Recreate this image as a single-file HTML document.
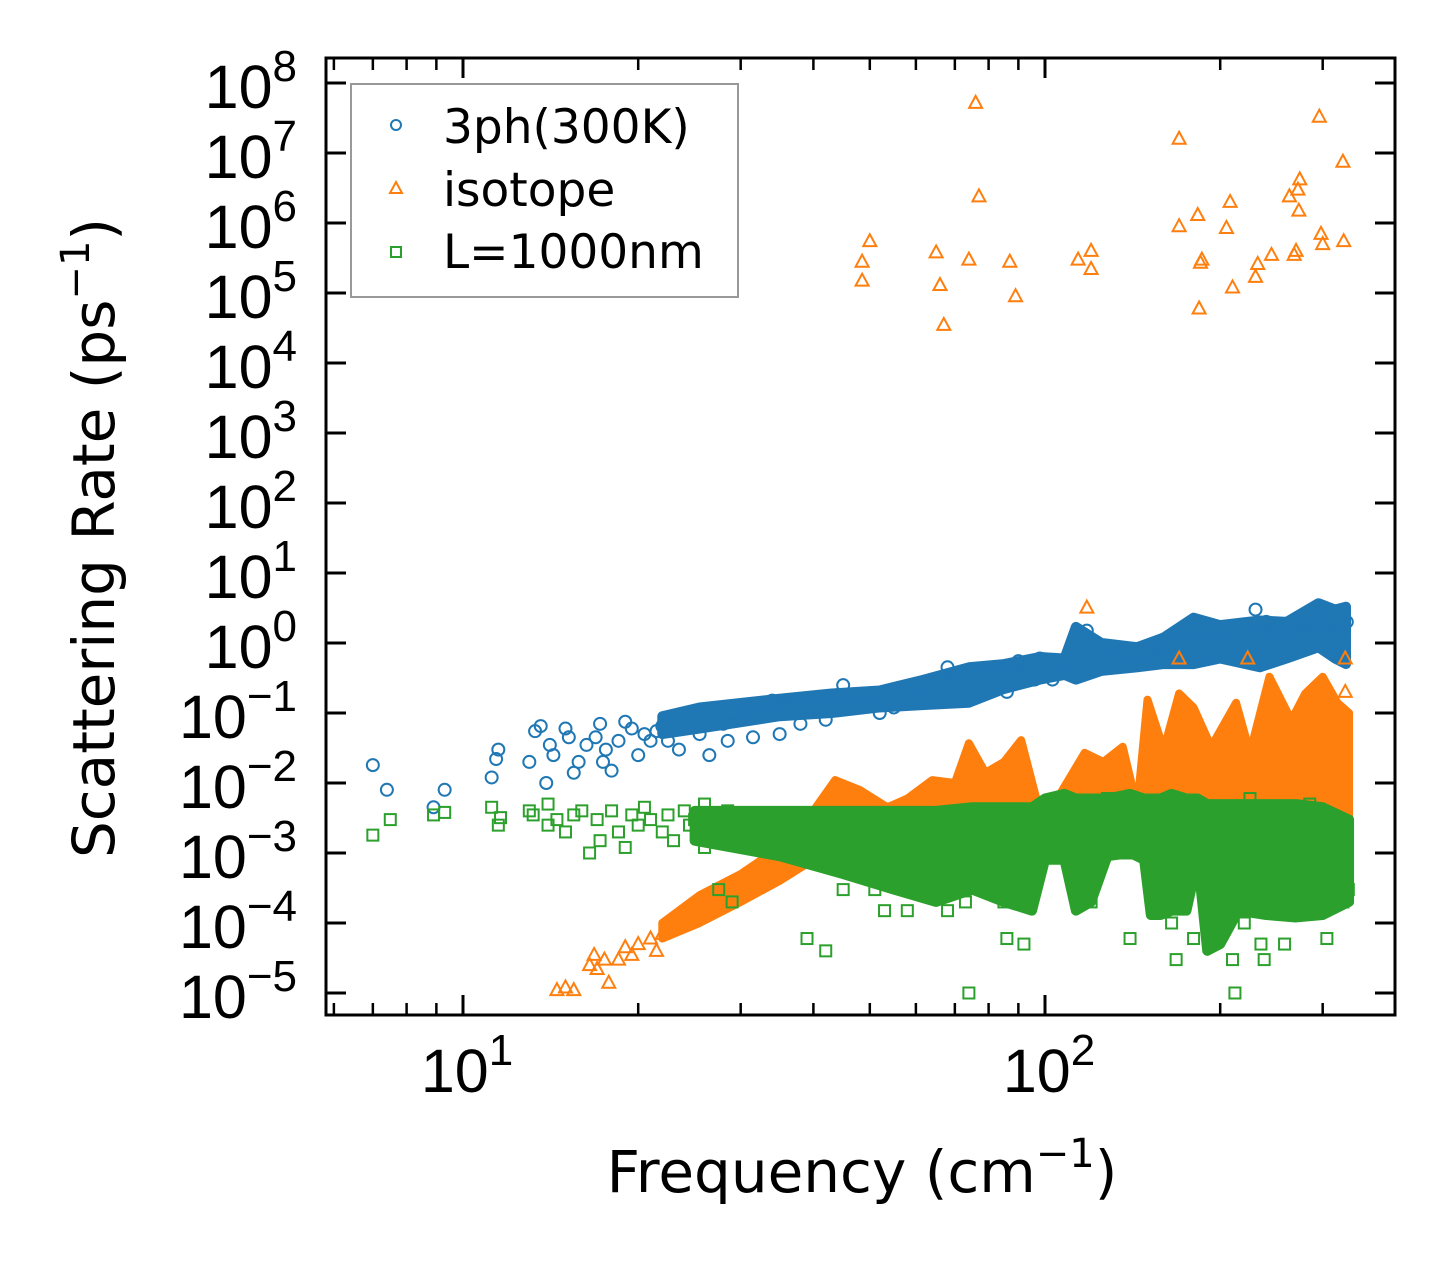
<!DOCTYPE html>
<html><head><meta charset="utf-8"><style>
html,body{margin:0;padding:0;background:#fff;}
svg{display:block;font-family:"Liberation Sans","DejaVu Sans",sans-serif;}
</style></head><body>
<svg id="chart" width="1455" height="1265" viewBox="0 0 1455 1265" xmlns="http://www.w3.org/2000/svg">
<rect width="1455" height="1265" fill="#fff"/>
<g id="marks"></g>
<g id="axes"></g>
<g id="legend" font-family="DejaVu Sans, sans-serif">
<rect x="351" y="84" width="387" height="213" fill="#fff" fill-opacity="0.8" stroke="#999" stroke-width="2"/>
<circle cx="396" cy="125" r="5" fill="none" stroke="#1f77b4" stroke-width="2"/>
<path d="M396,182 L402,193 L390,193 Z" fill="none" stroke="#ff7f0e" stroke-width="2"/>
<rect x="391" y="247" width="10" height="10" fill="none" stroke="#2ca02c" stroke-width="2"/>
<text x="443" y="143" font-size="47">3ph(300K)</text>
<text x="443" y="206" font-size="47">isotope</text>
<text x="443" y="268" font-size="47">L=1000nm</text>
</g>
</svg>
<script>
const blueF=[7.0,7.4,8.9,9.3,11.2,11.5,11.4,13,13.3,13.6,13.9,14.1,14.3,15,15.2,15.5,15.8,16.3,16.9,17.2,17.4,17.6,18,18.5,19,19.5,20,20.5,21,21.5,22,22.5,23,23.5,24,25,25.5,26,26.5,27,28,28.5,29,30,31,31.5,32,33,34,35,35.5,36,37,38,39,40,41,42,43,44,45,46,48,50,52,53,55,57,59,60,62,64,66,68,70,72,74,76,78,80,83,86,88,90,93,96,98,100,103,106,110,113,116,118,120,125,130,135,140,145,150,155,160,165,170,175,180,185,190,195,200,205,210,215,220,225,230,235,240,245,250,255,260,265,270,275,280,285,290,295,300,305,310,315,320,325,330];
const blueR=[0.018,0.008,0.0045,0.008,0.012,0.03,0.022,0.02,0.055,0.065,0.01,0.035,0.025,0.06,0.045,0.014,0.02,0.035,0.045,0.07,0.02,0.03,0.015,0.04,0.075,0.06,0.025,0.05,0.04,0.055,0.065,0.04,0.075,0.03,0.06,0.08,0.05,0.1,0.025,0.09,0.07,0.04,0.1,0.08,0.12,0.045,0.1,0.13,0.15,0.05,0.14,0.12,0.15,0.07,0.16,0.12,0.17,0.08,0.15,0.18,0.25,0.13,0.18,0.15,0.1,0.2,0.12,0.22,0.25,0.2,0.28,0.18,0.3,0.45,0.3,0.15,0.35,0.25,0.4,0.3,0.45,0.2,0.35,0.55,0.4,0.3,0.6,0.45,0.3,0.4,0.5,0.35,0.6,1.5,0.8,0.6,0.7,0.75,0.6,0.8,0.7,0.9,0.8,1.0,1.2,0.9,1.3,1.1,0.6,1.4,1.0,1.5,1.2,0.8,1.3,1.5,3.0,1.0,2.0,1.4,1.6,1.2,1.8,1.5,2.2,1.6,1.8,1.4,2.0,2.5,3.2,1.5,2.0,0.7,1.5,2.5,2.0];
const blueEnvF=[22,25.5,35,43,52,62,74,85,98,108,113,125,144,160,180,200,234,260,295,315,329];
const blueEnvLo=[0.05,0.06,0.09,0.1,0.12,0.13,0.14,0.22,0.3,0.35,0.3,0.4,0.45,0.5,0.5,0.6,0.45,0.6,0.87,0.6,0.5];
const blueEnvHi=[0.09,0.12,0.16,0.19,0.21,0.3,0.45,0.5,0.63,0.6,1.7,1.0,0.87,1.2,2.3,1.8,2.1,2.0,3.7,3.0,3.3];
const isoF=[48.5,48.5,50,65,66,67,74,76,77,87,89,114,120,120,170,170,183,185,186,184,205,208,210,230,232,245,263,268,270,272,273,274,296,298,300,325,326,
118,170,223,328,328,
14.5,15,15.5,16.5,16.8,17,17.5,17.8,18.5,19,19.5,20,21,21.5,22,23,24,25,26,27,28,29,30,31,32,33,34,35,36,38,40];
const isoR=[1.5e5,2.8e5,5.5e5,3.8e5,1.3e5,3.5e4,3e5,5.2e7,2.4e6,2.8e5,9e4,3e5,4e5,2.2e5,1.6e7,9e5,1.3e6,2.7e5,3e5,6e4,8.5e5,2e6,1.2e5,1.7e5,2.6e5,3.5e5,2.4e6,3.5e5,4e5,3e6,1.5e6,4.2e6,3.3e7,7e5,5e5,7.5e6,5.5e5,
3.2,0.6,0.6,0.6,0.2,
1.1e-5,1.2e-5,1.1e-5,2.5e-5,3.5e-5,2.2e-5,3e-5,1.4e-5,3e-5,4.5e-5,3.5e-5,5e-5,6e-5,4e-5,7e-5,1e-4,1.1e-4,1.2e-4,1.5e-4,1.8e-4,2e-4,2.5e-4,3e-4,4e-4,5e-4,7e-4,8e-4,1e-3,1.2e-3,1.5e-3,2e-3];
const isoEnvF=[22,25.5,30,35,40,43.6,48,53.6,58,64,70,74,79,85,91,98,105,117,126,136,144,150,160,170,180,193,213,225,243,265,280,300,318,333];
const isoEnvLo=[6e-5,1e-4,2e-4,4e-4,8e-4,1.5e-3,2e-3,2e-3,2e-3,2e-3,2e-3,2e-3,2e-3,2e-3,2e-3,2e-3,3e-3,3e-3,3e-3,3e-3,3e-3,3e-3,3e-3,3e-3,3e-3,3e-3,3e-3,3e-3,3e-3,3e-3,3e-3,3e-3,3e-3,3e-3];
const isoEnvHi=[1e-4,2.5e-4,5e-4,1.2e-3,4e-3,0.011,0.008,4.5e-3,6e-3,0.011,0.01,0.037,0.014,0.02,0.041,3.8e-3,6e-3,0.027,0.02,0.033,4.5e-3,0.155,0.03,0.19,0.12,0.033,0.14,0.027,0.33,0.079,0.19,0.33,0.14,0.1];
const grnF=[7,7.5,8.9,9.3,11.2,11.5,11.6,13,13.2,14,14,14.5,15,15.5,16,16.5,17,17.2,18,18.5,19,19.5,20,20.5,21,22,22.5,23,24,24.5,25,26,26,27,27.5,28,28.5,29,30,31,32,33,34,35,36,37,38,39,40,41,42,43,44,45,46,48,50,51,52,53,55,56,58,60,62,63,65,67,68,70,72,73,74,75,78,80,82,84,85,86,88,90,92,93,95,98,100,105,110,112,115,118,120,122,125,128,130,135,138,140,142,145,150,155,160,162,165,168,170,175,178,180,183,186,190,195,198,200,203,205,208,210,212,215,218,220,225,228,230,232,235,238,240,245,248,250,255,258,260,265,268,270,275,280,285,290,295,300,305,310,315,320,325,330,332];
const grnR=[1.8e-3,3e-3,3.5e-3,3.8e-3,4.5e-3,2.5e-3,3.2e-3,4e-3,3.5e-3,5e-3,2.5e-3,3e-3,2e-3,3.5e-3,4e-3,1e-3,3e-3,1.5e-3,4e-3,2e-3,1.2e-3,3.5e-3,2.5e-3,4.5e-3,3e-3,2e-3,3.5e-3,1.5e-3,4e-3,2.5e-3,3e-3,5e-3,1.2e-3,3.5e-3,3e-4,2e-3,4e-3,2e-4,3e-3,2.5e-3,3e-3,1.5e-3,3.5e-3,2e-3,1e-3,3e-3,2e-3,6e-5,3e-3,1.5e-3,4e-5,2.5e-3,1e-3,3e-4,2e-3,1.5e-3,2.5e-3,3e-4,1.5e-3,1.5e-4,2e-3,1e-3,1.5e-4,1.8e-3,8e-4,3e-4,2e-3,1e-3,1.5e-4,2e-3,6e-4,2e-4,1e-5,1.5e-3,3e-3,1e-3,4e-4,2e-3,2e-4,6e-5,3e-3,1.5e-3,5e-5,3e-4,2e-3,1e-3,2.5e-3,3e-3,5e-3,2e-3,4e-3,1e-3,2e-4,5e-4,3e-3,6e-3,2e-3,5e-3,1e-3,6e-5,1.5e-3,3e-3,5e-3,3e-3,2e-3,6e-4,1e-4,3e-5,1e-3,3e-3,5e-4,6e-5,2e-3,4e-3,1e-3,1e-4,3e-3,5e-4,1.5e-3,4e-3,2e-4,3e-5,1e-5,2e-3,5e-4,1e-4,6e-3,3e-3,1e-3,3e-4,5e-5,3e-5,2e-3,8e-4,4e-3,2e-4,1e-3,5e-5,2e-3,3e-4,6e-4,3e-3,1e-3,1.5e-4,5e-3,2e-3,4e-4,1e-3,6e-5,3e-3,5e-4,1.5e-3,2e-4,1e-3,3e-4];
const grnEnvF=[25,35,45,55,65,75,85,95,100,108,113,120,128,140,148,152,158,165,175,183,190,200,215,240,270,300,333];
const grnEnvLo=[1.5e-3,9e-4,5e-4,3e-4,2e-4,3e-4,2e-4,1.5e-4,8e-4,8e-4,1.5e-4,2e-4,9e-4,1e-3,8e-4,1.3e-4,1.3e-4,1.5e-4,1.5e-4,8e-4,4e-5,5e-5,1.5e-4,1.3e-4,1.2e-4,1.3e-4,2e-4];
const grnEnvHi=[4e-3,4e-3,4e-3,4e-3,4e-3,4.5e-3,4.5e-3,4.5e-3,6e-3,7e-3,6e-3,6e-3,6e-3,7e-3,6e-3,6e-3,6e-3,7e-3,6e-3,6e-3,5e-3,5e-3,5e-3,5e-3,5e-3,4.5e-3,3e-3];
const yTickExps=[-5,-4,-3,-2,-1,0,1,2,3,4,5,6,7,8];
const xTickExps=[1,2];
const xMinorTicks=[6,7,8,9,20,30,40,50,60,70,80,90,200,300];

const NS="http://www.w3.org/2000/svg";
const L=326,R=1395,T=58,B=1015;
function sx(f){return 463+582*(Math.log10(f)-1);}
function sy(r){return 993-70*(Math.log10(r)+5);}
function mk(tag,attrs,parent){const e=document.createElementNS(NS,tag);for(const k in attrs)e.setAttribute(k,attrs[k]);parent.appendChild(e);return e;}
function envPath(F,lo,hi){let d='';F.forEach((f,i)=>{d+=(i?'L':'M')+sx(f)+','+sy(hi[i]);});for(let i=F.length-1;i>=0;i--){d+='L'+sx(F[i])+','+sy(lo[i]);}return d+'Z';}
const marks=document.getElementById('marks');
const axes=document.getElementById('axes');

const gB=mk('g',{},marks);


const eB=mk('path',{d:envPath(blueEnvF,blueEnvLo,blueEnvHi),fill:'#1f77b4',stroke:'#1f77b4','stroke-width':10,'stroke-linejoin':'round'},gB);


blueF.forEach((f,i)=>{const c=mk('circle',{cx:sx(f),cy:sy(blueR[i]),r:6,fill:'none',stroke:'#1f77b4','stroke-width':2},gB);

});
const gO=mk('g',{},marks);


const eO=mk('path',{d:envPath(isoEnvF,isoEnvLo,isoEnvHi),fill:'#ff7f0e',stroke:'#ff7f0e','stroke-width':8,'stroke-linejoin':'round'},gO);


isoF.forEach((f,i)=>{const x=sx(f),y=sy(isoR[i]);const p=mk('path',{d:`M${x},${y-7} L${x+6.5},${y+5} L${x-6.5},${y+5} Z`,fill:'none',stroke:'#ff7f0e','stroke-width':2},gO);

});
const gG=mk('g',{},marks);


const eG=mk('path',{d:envPath(grnEnvF,grnEnvLo,grnEnvHi),fill:'#2ca02c',stroke:'#2ca02c','stroke-width':10,'stroke-linejoin':'round'},gG);


grnF.forEach((f,i)=>{const x=sx(f),y=sy(grnR[i]);const p=mk('rect',{x:x-5.5,y:y-5.5,width:11,height:11,fill:'none',stroke:'#2ca02c','stroke-width':2},gG);

});

const fr=mk('rect',{x:L,y:T,width:R-L,height:B-T,fill:'none',stroke:'#000','stroke-width':3},axes);


yTickExps.forEach(e=>{const y=sy(Math.pow(10,e));
mk('line',{x1:L,x2:L+20,y1:y,y2:y,stroke:'#000','stroke-width':3},axes);
mk('line',{x1:R,x2:R-20,y1:y,y2:y,stroke:'#000','stroke-width':3},axes);
const t=mk('text',{x:297,y:y+25,'font-size':61,'text-anchor':'end'},axes);


const a=mk('tspan',{},t);a.textContent='10';
const s=mk('tspan',{'font-size':44,dy:-27},t);s.textContent=(e<0?'\u2212':'')+Math.abs(e);
});
xTickExps.forEach(e=>{const x=sx(Math.pow(10,e));
mk('line',{x1:x,x2:x,y1:B,y2:B-20,stroke:'#000','stroke-width':3},axes);
mk('line',{x1:x,x2:x,y1:T,y2:T+20,stroke:'#000','stroke-width':3},axes);
const t=mk('text',{x:x+4,y:1092,'font-size':61,'text-anchor':'middle'},axes);


const a=mk('tspan',{},t);a.textContent='10';
const s=mk('tspan',{'font-size':44,dy:-27},t);s.textContent=String(e);
});
xMinorTicks.forEach(f=>{const x=sx(f);
mk('line',{x1:x,x2:x,y1:B,y2:B-12,stroke:'#000','stroke-width':2.5},axes);
mk('line',{x1:x,x2:x,y1:T,y2:T+12,stroke:'#000','stroke-width':2.5},axes);});
const xt=mk('text',{x:862,y:1192,'font-size':58,'text-anchor':'middle','font-family':'DejaVu Sans, sans-serif'},axes);


xt.innerHTML='Frequency (cm<tspan font-size="40" dy="-25">\u22121</tspan><tspan dy="25">)</tspan>';
const yt=mk('text',{x:0,y:0,'font-size':58,'text-anchor':'middle','font-family':'DejaVu Sans, sans-serif',transform:'translate(114,538) rotate(-90)'},axes);


yt.innerHTML='Scattering Rate (ps<tspan font-size="40" dy="-25">\u22121</tspan><tspan dy="25">)</tspan>';
</script>
</body></html>
